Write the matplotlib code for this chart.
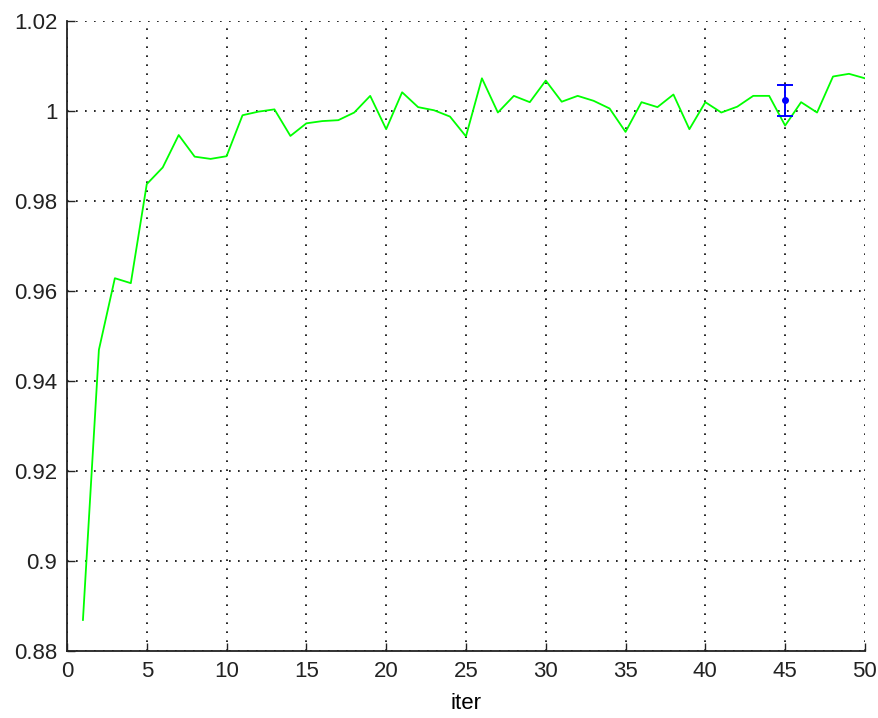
import numpy as np
from matplotlib import pyplot as plt
from matplotlib.ticker import FuncFormatter

plt.rcParams["font.family"] = ["Liberation Sans", "DejaVu Sans"]

iters = np.arange(1, 51)
values = [
    0.8869, 0.9469, 0.9628, 0.9617, 0.9837, 0.9874, 0.9946, 0.9898, 0.9893, 0.9899,
    0.9990, 0.9998, 1.0003, 0.9944, 0.9972, 0.9977, 0.9979, 0.9996, 1.0033, 0.9959,
    1.0041, 1.0008, 1.0001, 0.9987, 0.9943, 1.0072, 0.9996, 1.0033, 1.0019, 1.0067,
    1.0020, 1.0033, 1.0022, 1.0005, 0.9953, 1.0019, 1.0008, 1.0036, 0.9959, 1.0019,
    0.9996, 1.0009, 1.0033, 1.0033, 0.9967, 1.0019, 0.9996, 1.0076, 1.0082, 1.0072,
]

# single error bar marker
err_x = [45]
err_y = [1.0024]
err_lo = [0.0036]
err_hi = [0.0033]

fig = plt.figure(figsize=(8.79, 7.18), dpi=100)
ax = fig.add_axes([0.0762, 0.0933, 0.9078, 0.8779])

ax.plot(iters, values, color="#00ff00", linewidth=1.3)
ax.errorbar(err_x, err_y, yerr=[err_lo, err_hi], fmt=".", color="#0000ff",
            markersize=8, capsize=6, elinewidth=1.4, capthick=1.4)

ax.set_xlim(0, 50)
ax.set_ylim(0.88, 1.02)
ax.set_xticks(np.arange(0, 51, 5))
ax.set_yticks(np.arange(0.88, 1.0201, 0.02))
ax.yaxis.set_major_formatter(FuncFormatter(lambda v, p: "%g" % round(v, 2)))

ax.grid(True, color="black", linestyle=(0, (1, 4.4)), linewidth=1.2)
for side in ("top", "right"):
    ax.spines[side].set_visible(False)
for side in ("left", "bottom"):
    ax.spines[side].set_linewidth(1.3)
    ax.spines[side].set_color("#222222")

ax.tick_params(direction="in", length=6, width=1, labelsize=16, pad=7,
               colors="#222222")
ax.set_xlabel("iter", fontsize=16, labelpad=8)

plt.savefig("out.png", dpi=100)
